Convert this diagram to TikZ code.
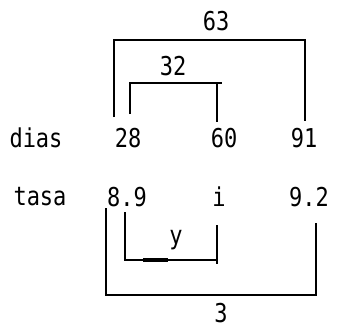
\documentclass[tikz,border=0pt]{standalone}
\usepackage{fontspec}
\setmonofont{DejaVu Sans Mono}
\newcommand{\tall}[1]{\scalebox{1}[1.18]{#1}}
\begin{document}
\begin{tikzpicture}[x=1pt,y=-1pt,
  lbl/.style={font=\ttfamily\fontsize{22}{22}\selectfont, inner sep=0pt, anchor=center},
  brk/.style={line width=1.9pt, line cap=butt, line join=miter}]
\useasboundingbox (0,0) rectangle (337,329);
% labels
\node[lbl] (dias) at (36,138) {\tall{dias}};
\node[lbl] (d28) at (128,138) {\tall{28}};
\node[lbl] (d60) at (224,138) {\tall{60}};
\node[lbl] (d91) at (304,138) {\tall{91}};
\node[lbl] (tasa) at (40,197) {\tall{tasa}};
\node[lbl] (t89) at (127,197) {\tall{8.9}};
\node[lbl] (ti) at (219,197) {\tall{i}};
\node[lbl] (t92) at (309,197) {\tall{9.2}};
\node[lbl] (l63) at (216,21) {\tall{63}};
\node[lbl] (l32) at (173,66) {\tall{32}};
\node[lbl] (ly) at (176,240) {\tall{y}};
\node[lbl] (l3) at (221,313) {\tall{3}};
% bracket corners
\coordinate (a1) at (114,117);
\coordinate (a2) at (114,40);
\coordinate (a3) at (305,40);
\coordinate (a4) at (305,121);
\coordinate (b1) at (130,114);
\coordinate (b2) at (130,83);
\coordinate (b3) at (222,83);
\coordinate (b4) at (217,83);
\coordinate (b5) at (217,122);
\coordinate (c1) at (106,208);
\coordinate (c2) at (106,295);
\coordinate (c3) at (316,295);
\coordinate (c4) at (316,223);
\coordinate (e1) at (125,212);
\coordinate (e2) at (125,260);
\coordinate (e3) at (217,260);
\coordinate (e4) at (217,225);
\coordinate (e5) at (217,264);
\coordinate (f1) at (143,260);
\coordinate (f2) at (168,260);
\draw[brk] (a1) -- (a2) -- (a3) -- (a4);
\draw[brk] (b1) -- (b2) -- (b3);
\draw[brk] (b4) -- (b5);
\draw[brk] (c1) -- (c2) -- (c3) -- (c4);
\draw[brk] (e1) -- (e2) -- (e3);
\draw[brk] (e4) -- (e5);
\draw[line width=3.6pt] (f1) -- (f2);
\end{tikzpicture}
\end{document}
